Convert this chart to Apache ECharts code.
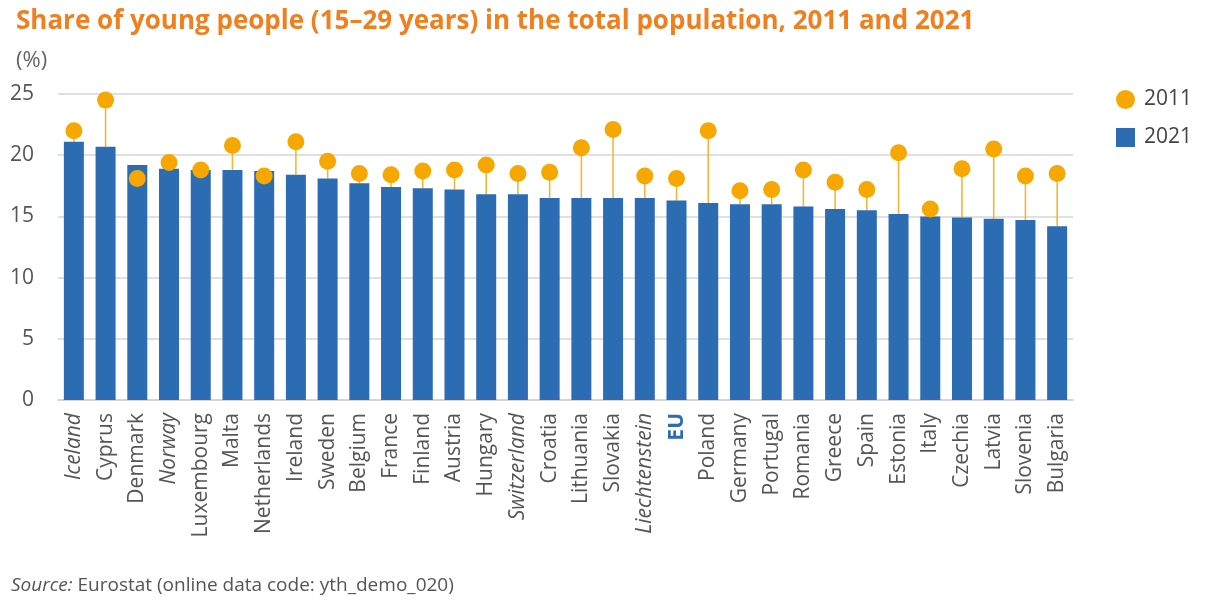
<!DOCTYPE html>
<html>
<head>
<meta charset="utf-8">
<script src="https://cdn.jsdelivr.net/npm/echarts@6/dist/echarts.min.js"></script>
<style>
html,body{margin:0;padding:0;background:#fff;}
#chart{width:1211px;height:604px;}
</style>
</head>
<body>
<div id="chart"></div>
<script>
const categories = ['Iceland','Cyprus','Denmark','Norway','Luxembourg','Malta','Netherlands','Ireland','Sweden','Belgium','France','Finland','Austria','Hungary','Switzerland','Croatia','Lithuania','Slovakia','Liechtenstein','EU','Poland','Germany','Portugal','Romania','Greece','Spain','Estonia','Italy','Czechia','Latvia','Slovenia','Bulgaria'];
const nonEU = ['Iceland','Norway','Switzerland','Liechtenstein'];
const aggregate = ['EU'];
const values2021 = [21.1,20.7,19.2,18.9,18.8,18.8,18.7,18.4,18.1,17.7,17.4,17.3,17.2,16.8,16.8,16.5,16.5,16.5,16.5,16.3,16.1,16.0,16.0,15.8,15.6,15.5,15.2,15.0,14.9,14.8,14.7,14.2];
const values2011 = [22.0,24.5,18.1,19.4,18.8,20.8,18.3,21.1,19.5,18.5,18.4,18.7,18.8,19.2,18.5,18.6,20.6,22.1,18.3,18.1,22.0,17.1,17.2,18.8,17.8,17.2,20.2,15.6,18.9,20.5,18.3,18.5];
const yTicks = [0,5,10,15,20,25];

const FONT = '"Open Sans", "Noto Sans", sans-serif';
const chart = echarts.init(document.getElementById('chart'), null, {renderer:'canvas'});

const option = {
  animation: false,
  backgroundColor: '#ffffff',
  title: [{
    text: 'Share of young people (15–29 years) in the total population, 2011 and 2021',
    left: 11, top: 4,
    textStyle: {color:'#f07f1e', fontSize: 26, fontWeight: 'bold', fontFamily: FONT}
  },{
    text: '(%)',
    left: 11, top: 45,
    textStyle: {color:'#666666', fontSize: 22, fontWeight: 'normal', fontFamily: FONT}
  }],
  legend: {
    orient: 'vertical',
    left: 1111, top: 84,
    itemWidth: 19, itemHeight: 19, itemGap: 17,
    textStyle: {color:'#444444', fontSize: 21, fontFamily: FONT, padding: [0,0,0,4]},
    data: [{name:'2011', icon:'circle'}, {name:'2021', icon:'rect'}]
  },
  grid: {left: 58, right: 138, top: 94, bottom: 204},
  xAxis: {
    type: 'category',
    data: categories,
    axisLine: {show: true, lineStyle: {color:'#cfcfcf', width: 1.5}},
    axisTick: {show: false},
    axisLabel: {
      interval: 0, rotate: 90, margin: 13,
      fontFamily: FONT, fontSize: 21, color: '#555555',
      formatter: function (v) {
        if (aggregate.indexOf(v) >= 0) return '{eu|' + v + '}';
        if (nonEU.indexOf(v) >= 0) return '{it|' + v + '}';
        return v;
      },
      rich: {
        it: {fontStyle: 'italic', fontFamily: FONT, fontSize: 21, color: '#555555'},
        eu: {fontWeight: 'bold', fontFamily: FONT, fontSize: 21, color: '#2b6cb3'}
      }
    }
  },
  yAxis: {
    type: 'value',
    min: 0, max: 25, interval: 5,
    axisLine: {show: false},
    axisTick: {show: false},
    splitLine: {lineStyle: {color:'#d6d6d6', width: 1.5}},
    axisLabel: {margin: 24, fontFamily: FONT, fontSize: 21, color: '#555555',
      formatter: function (v) { return yTicks.indexOf(v) >= 0 ? String(v) : ''; }}
  },
  series: [
    {
      name: 'stem',
      type: 'custom',
      z: 1,
      silent: true,
      renderItem: function (params, api) {
        const x = api.value(0);
        const p1 = api.coord([x, api.value(1)]);
        const p2 = api.coord([x, api.value(2)]);
        return {type: 'line', shape: {x1: p1[0], y1: p1[1], x2: p2[0], y2: p2[1]},
          style: {stroke: '#f6b53a', lineWidth: 1.6}};
      },
      data: categories.map(function (c, i) { return [i, values2011[i], values2021[i]]; })
    },
    {
      name: '2021',
      type: 'bar',
      z: 2,
      barWidth: 20,
      itemStyle: {color: '#2b6cb3'},
      data: values2021
    },
    {
      name: '2011',
      type: 'scatter',
      z: 3,
      symbol: 'circle',
      symbolSize: 17,
      itemStyle: {color: '#f6a800', opacity: 1},
      data: values2011
    }
  ],
  graphic: [{
    type: 'text',
    left: 11, top: 576,
    style: {
      text: '{i|Source:} Eurostat (online data code: {b|yth_demo_020})',
      fontFamily: FONT, fontSize: 19, fill: '#555555',
      rich: {
        i: {fontStyle: 'italic', fontFamily: FONT, fontSize: 19, color: '#555555'},
        b: {fontFamily: FONT, fontSize: 19, color: '#2b6cb3'}
      }
    }
  }]
};
chart.setOption(option);
</script>
</body>
</html>
